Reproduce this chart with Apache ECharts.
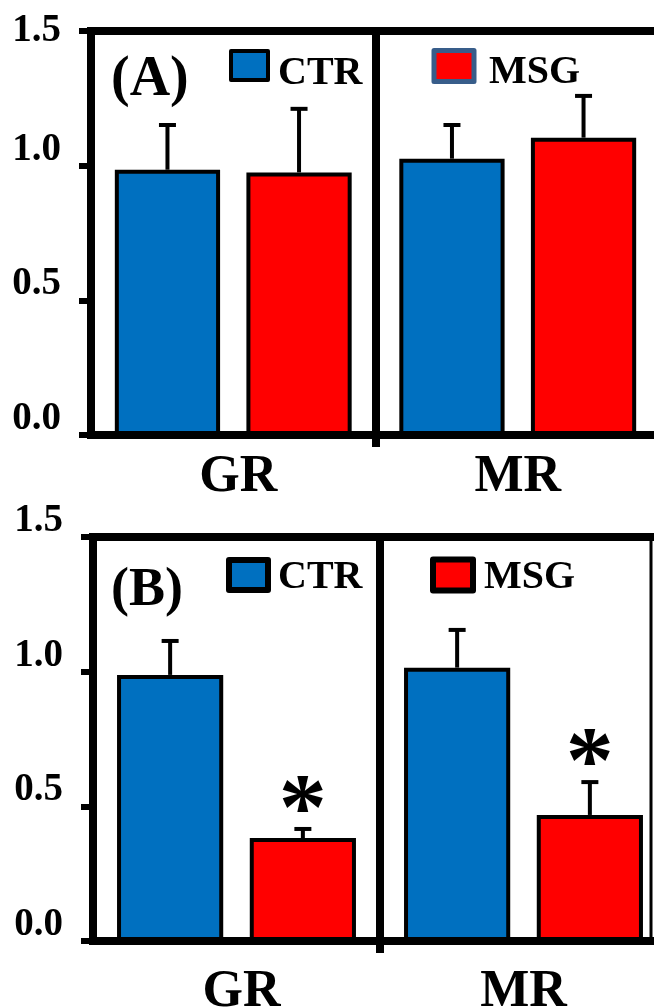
<!DOCTYPE html>
<html><head><meta charset="utf-8">
<script src="https://cdn.jsdelivr.net/npm/echarts@6/dist/echarts.min.js"></script>
<style>html,body{margin:0;padding:0;background:#fff}#c{width:654px;height:1007px}</style>
</head><body><div id="c"></div>
<script>
// ---- data ----
const categories = ['GR', 'MR'];
const seriesNames = ['CTR', 'MSG'];
// Panel (A)
const ctrA = [0.985, 1.026];
const ctrAErr = [0.166, 0.125];
const msgA = [0.975, 1.104];
const msgAErr = [0.236, 0.155];
// Panel (B)
const ctrB = [0.988, 1.015];
const ctrBErr = [0.126, 0.140];
const msgB = [0.382, 0.468];
const msgBErr = [0.034, 0.122];
const sigB = [1, 1]; // asterisk above MSG bars in panel B
// y axis
const yMin = 0, yMax = 1.5, yStep = 0.5;
const panelLabels = ['(A)', '(B)'];

const FONT = '"Liberation Serif","Times New Roman",serif';
const BLUE = '#0070c0', RED = '#ff0000';
const BAR_W = 0.37, BAR_GAP = 0.25;

function xAx(gi, margin) {
  return {
    gridIndex: gi, type: 'category', data: categories, z: 3,
    axisLine: { show: true, lineStyle: { color: '#000', width: 8 } },
    axisTick: { show: false },
    splitLine: { show: true, lineStyle: { color: '#000', width: 8 } },
    axisLabel: {
      margin: margin, color: '#000', fontFamily: FONT, fontWeight: 'bold', fontSize: 52,
      formatter: function (v, i) { return i === 0 ? '{f|' + v + '}' : '{s|' + v + '}'; },
      rich: {
        f: { fontFamily: FONT, fontWeight: 'bold', fontSize: 52, color: '#000', padding: [0, 0, 0, 10] },
        s: { fontFamily: FONT, fontWeight: 'bold', fontSize: 52, color: '#000' }
      }
    }
  };
}
// helper axis only for the boundary tick between the two categories
function xTickAx(gi) {
  const boundaries = categories.slice(1).map(function (c, i) { return i + 1; });
  return {
    gridIndex: gi, type: 'value', min: 0, max: categories.length, position: 'bottom', z: 3,
    axisLine: { show: false },
    axisTick: { show: true, customValues: boundaries, length: 12, lineStyle: { color: '#000', width: 8 } },
    axisLabel: { show: false }, splitLine: { show: false }
  };
}
function yAx(gi, topSpecial) {
  return {
    gridIndex: gi, type: 'value', min: yMin, max: yMax, interval: yStep,
    axisLine: { show: true, lineStyle: { color: '#000', width: 8 } },
    axisTick: { show: true, length: 12, lineStyle: { color: '#000', width: 6 } },
    splitLine: { show: false },
    axisLabel: {
      margin: 30, color: '#000', fontFamily: FONT, fontWeight: 'bold', fontSize: 39,
      verticalAlign: 'middle',
      formatter: function (v) {
        const s = v.toFixed(1);
        if (topSpecial && v === yMax) return '{t|' + s + '}';
        return '{n|' + s + '}';
      },
      rich: {
        n: { fontFamily: FONT, fontWeight: 'bold', fontSize: 39, color: '#000', padding: [0, 0, 32, 0] },
        t: { fontFamily: FONT, fontWeight: 'bold', fontSize: 39, color: '#000' }
      }
    }
  };
}
function bar(name, xi, yi, data, color) {
  return {
    name: name, type: 'bar', xAxisIndex: xi, yAxisIndex: yi, data: data,
    barWidth: (BAR_W * 100) + '%', barGap: (BAR_GAP * 100) + '%',
    itemStyle: { color: color, borderColor: '#000', borderWidth: 4 }
  };
}
function errData(ctr, ctrErr, msg, msgErr, sig) {
  const out = [];
  categories.forEach(function (c, i) {
    out.push([i, 0, ctr[i], ctr[i] + ctrErr[i], 0]);
    out.push([i, 1, msg[i], msg[i] + msgErr[i], sig ? sig[i] : 0]);
  });
  return out;
}
function renderErr(params, api) {
  const ci = api.value(0), s = api.value(1), m = api.value(2), t = api.value(3), sig = api.value(4);
  const W = api.size([1, 0])[0];
  const bw = W * BAR_W;
  const off = (s === 0 ? -1 : 1) * bw * (1 + BAR_GAP) / 2;
  const pm = api.coord([ci, m]), pt = api.coord([ci, t]);
  const x = pm[0] + off;
  const ch = [
    { type: 'line', shape: { x1: x, y1: pm[1], x2: x, y2: pt[1] }, style: { stroke: '#000', lineWidth: 4 } },
    { type: 'line', shape: { x1: x - 8.5, y1: pt[1], x2: x + 8.5, y2: pt[1] }, style: { stroke: '#000', lineWidth: 4 } }
  ];
  if (sig) {
    ch.push({ type: 'text', style: { text: '*', x: x, y: pt[1] - 15, align: 'center', verticalAlign: 'middle',
      textAlign: 'center', textVerticalAlign: 'middle', fontSize: 96, fontWeight: 'bold', fontFamily: FONT, fill: '#000' } });
  }
  return { type: 'group', children: ch };
}
function errSeries(xi, yi, data) {
  return { type: 'custom', xAxisIndex: xi, yAxisIndex: yi, data: data, renderItem: renderErr, z: 4,
    encode: { x: 0, y: 3 }, silent: true };
}
function leg(name, left, top, w, h, color, bc, bwid, padT, padL) {
  return {
    selectedMode: false, left: left, top: top, padding: 0, itemWidth: w, itemHeight: h, icon: 'rect',
    data: [{ name: name, icon: 'rect', itemStyle: { color: color, borderColor: bc, borderWidth: bwid, borderJoin: 'round' } }],
    formatter: '{a|{name}}',
    textStyle: { fontFamily: FONT, fontWeight: 'bold', fontSize: 40, color: '#000',
      rich: { a: { fontFamily: FONT, fontWeight: 'bold', fontSize: 40, color: '#000', padding: [padT, 0, 0, padL] } } }
  };
}

const option = {
  backgroundColor: '#fff',
  animation: false,
  title: [
    { text: panelLabels[0], left: 111, top: 53, padding: 0, textStyle: { fontFamily: FONT, fontWeight: 'bold', fontSize: 56, color: '#000' } },
    { text: panelLabels[1], left: 111, top: 564, padding: 0, textStyle: { fontFamily: FONT, fontWeight: 'bold', fontSize: 54, color: '#000' } }
  ],
  legend: [
    leg(seriesNames[0], 229, 49, 37, 29, BLUE, '#000', 4, 16, 5),
    leg(seriesNames[1], 431.5, 48, 40, 31, RED, '#385d8a', 5, 14, 10),
    leg(seriesNames[0], 226, 557, 39, 30, BLUE, '#000', 6, 6, 5),
    leg(seriesNames[1], 430, 556.5, 40, 31, RED, '#000', 6, 6, 6)
  ],
  grid: [
    { left: 91, top: 31, width: 569, height: 404, show: true, borderColor: '#000', borderWidth: 8,
      backgroundColor: 'transparent', outerBoundsMode: 'none', containLabel: false },
    { left: 93, top: 537, width: 574, height: 404, show: true, borderColor: '#000', borderWidth: 8,
      backgroundColor: 'transparent', outerBoundsMode: 'none', containLabel: false }
  ],
  xAxis: [xAx(0, 17), xAx(1, 26), xTickAx(0), xTickAx(1)],
  yAxis: [yAx(0, true), yAx(1, false)],
  graphic: {
    elements: [
      // thin right frame edge visible in panel (B)
      { type: 'line', z: 100, shape: { x1: 651, y1: 537, x2: 651, y2: 941 }, style: { stroke: '#000', lineWidth: 3 } }
    ]
  },
  series: [
    bar(seriesNames[0], 0, 0, ctrA, BLUE),
    bar(seriesNames[1], 0, 0, msgA, RED),
    bar(seriesNames[0], 1, 1, ctrB, BLUE),
    bar(seriesNames[1], 1, 1, msgB, RED),
    errSeries(0, 0, errData(ctrA, ctrAErr, msgA, msgAErr, null)),
    errSeries(1, 1, errData(ctrB, ctrBErr, msgB, msgBErr, sigB))
  ]
};
const chart = echarts.init(document.getElementById('c'), null, { renderer: 'canvas' });
chart.setOption(option);
</script></body></html>
